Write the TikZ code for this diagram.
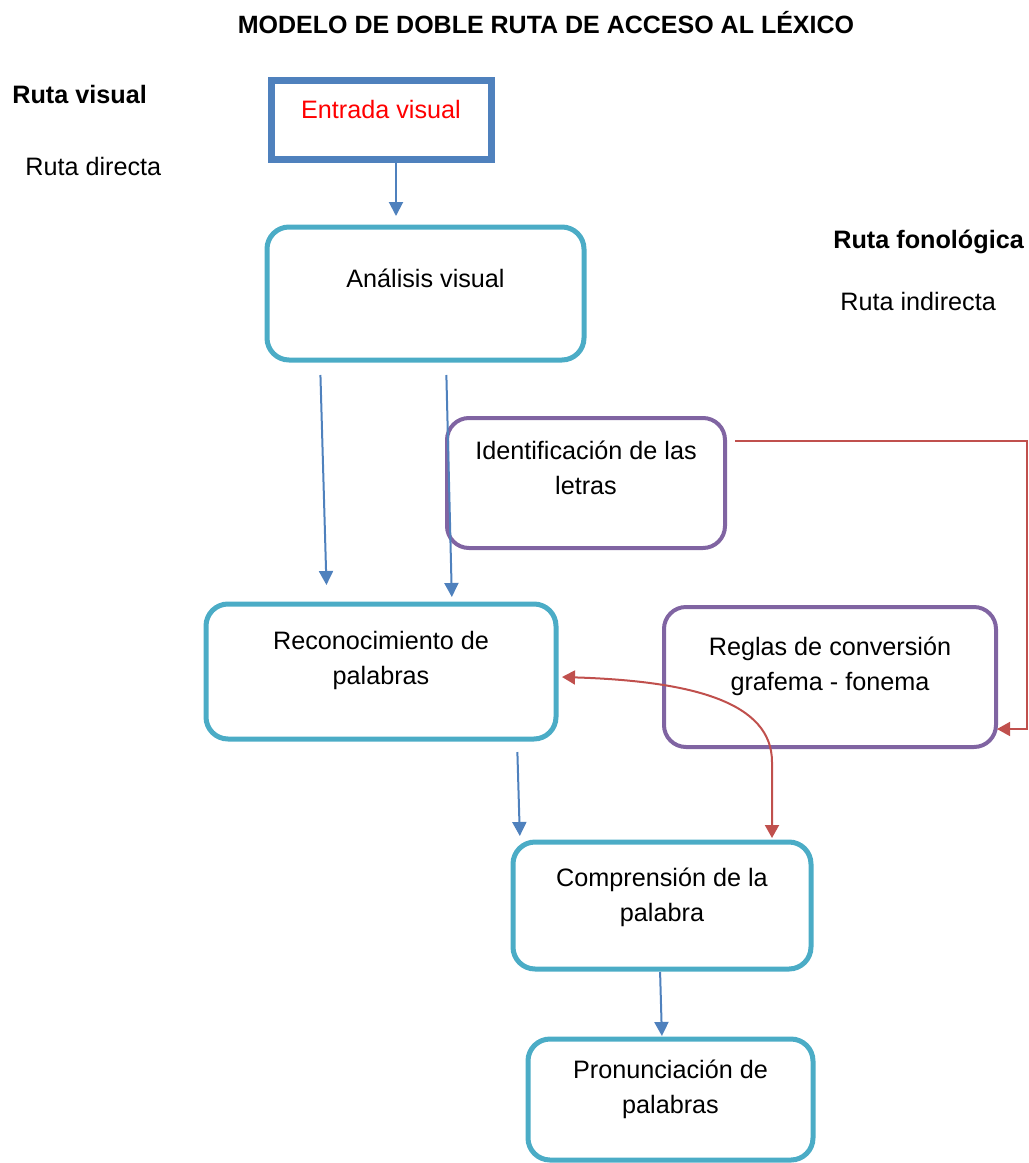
\documentclass[tikz,border=0pt]{standalone}
\usepackage{fontspec}
\setmainfont{Liberation Sans}
\usepackage{xcolor}
\usetikzlibrary{arrows.meta, calc, positioning}

\definecolor{azulcaja}{HTML}{4F81BD}
\definecolor{turquesa}{HTML}{4BACC6}
\definecolor{morado}{HTML}{8064A2}
\definecolor{rojizo}{HTML}{C0504D}

\begin{document}
\begin{tikzpicture}[x=0.5pt, y=-0.5pt,
    caja/.style={draw=turquesa, line width=2.5pt, rounded corners=11pt, inner sep=0pt, outer sep=0pt},
    cajamorada/.style={caja, draw=morado, line width=2pt},
    texto/.style={font=\fontsize{12.6}{17.25}\selectfont, align=center, inner sep=0pt, anchor=north},
    rotulo/.style={font=\fontsize{12.6}{17.25}\selectfont, inner sep=0pt, anchor=base west},
    flecha/.style={draw=azulcaja, line width=1pt, -{Triangle[width=7pt, length=7pt]}},
    roja/.style={draw=rojizo, line width=1pt}]
    \useasboundingbox (0,0) rectangle (1029,1163);

    % titulo y rotulos
    \node[rotulo, anchor=base, font=\fontsize{12.5}{15}\selectfont\bfseries] (titulo) at (546,33) {MODELO DE DOBLE RUTA DE ACCESO AL LÉXICO};
    \node[rotulo, font=\fontsize{12.6}{15}\selectfont\bfseries] (rvisual) at (12,103) {Ruta visual};
    \node[rotulo] (rdirecta) at (25,175) {Ruta directa};
    \node[rotulo, font=\fontsize{12.6}{15}\selectfont\bfseries] (rfono) at (833,248) {Ruta fonológica};
    \node[rotulo] (rindirecta) at (840,310) {Ruta indirecta};

    % cajas
    \node[draw=azulcaja, line width=3.5pt, inner sep=0pt, outer sep=0pt, minimum width=110pt, minimum height=39.5pt,
        label={[texto, yshift=-7pt, text=red]north:{\strut Entrada visual}}] (entrada) at (381,119.5) {};
    \node[caja, minimum width=158.5pt, minimum height=66.5pt,
        label={[texto, yshift=-18pt]north:{\strut Análisis visual}}] (analisis) at (425.5,293.5) {};
    \node[cajamorada, minimum width=139pt, minimum height=65pt,
        label={[texto, yshift=-8.5pt]north:{\strut Identificación de las\\letras}}] (identificacion) at (586,483) {};
    \node[caja, minimum width=175pt, minimum height=67.5pt,
        label={[texto, yshift=-10.5pt]north:{\strut Reconocimiento de\\palabras}}] (reconocimiento) at (381,671.5) {};
    \node[cajamorada, minimum width=166pt, minimum height=70pt,
        label={[texto, yshift=-12pt]north:{\strut Reglas de conversión\\grafema - fonema}}] (reglas) at (830,677) {};
    \node[caja, minimum width=149pt, minimum height=63.5pt,
        label={[texto, yshift=-10pt]north:{\strut Comprensión de la\\palabra}}] (comprension) at (662,905.5) {};
    \node[caja, minimum width=142.5pt, minimum height=60.5pt,
        label={[texto, yshift=-7.5pt]north:{\strut Pronunciación de\\palabras}}] (pronunciacion) at (670.5,1099.5) {};

    % flechas azules
    \draw[flecha, shorten >=5.5pt] ([xshift=7.5pt]entrada.south) -- ([xshift=-14.75pt]analisis.north);
    \draw[flecha, shorten <=7.5pt, shorten >=9.5pt] ([xshift=-52.75pt]analisis.south) -- ([xshift=-27pt]reconocimiento.north);
    \draw[flecha, shorten <=7.5pt, shorten >=3.5pt] ([xshift=10.25pt]analisis.south) -- ([xshift=35.5pt]reconocimiento.north);
    \draw[flecha, shorten <=6.5pt, shorten >=3pt] ([xshift=68pt]reconocimiento.south) -- ([xshift=-71pt]comprension.north);
    \draw[flecha, shorten <=1.5pt, shorten >=1.5pt] ([xshift=-1pt]comprension.south) -- ([xshift=-4.25pt]pronunciacion.north);

    % flechas rojas
    \draw[roja, line width=0.8pt, -{Triangle[width=7pt, length=6.5pt]}] ([shift={(5pt,21pt)}]identificacion.east)
        -| ([shift={(15.5pt,-26pt)}]reglas.east) -- ([shift={(0.5pt,-26pt)}]reglas.east);
    \draw[roja, {Triangle[width=7pt, length=6.5pt]}-{Triangle[width=7pt, length=6.5pt]}]
        ([shift={(3pt,-2.75pt)}]reconocimiento.east) .. controls +(130,4) and +(0,-60) ..
        ([shift={(55pt,40pt)}]comprension.north) -- ([shift={(55pt,2pt)}]comprension.north);
\end{tikzpicture}
\end{document}
